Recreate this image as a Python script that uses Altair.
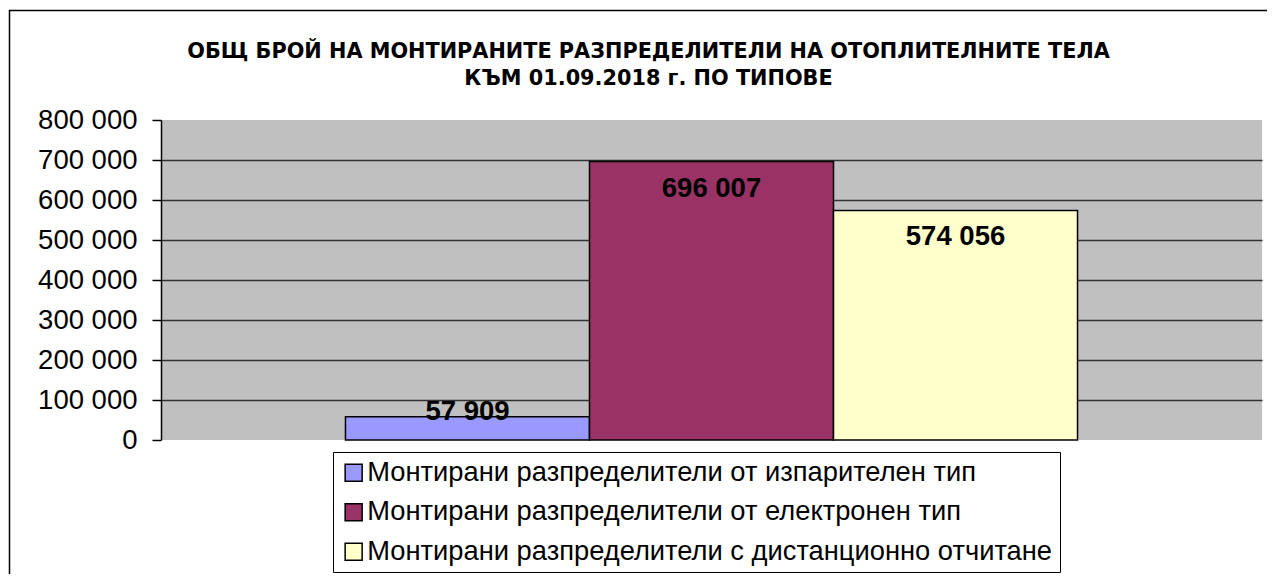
import altair as alt
import pandas as pd

series = [
    "Монтирани разпределители от изпарителен тип",
    "Монтирани разпределители от електронен тип",
    "Монтирани разпределители с дистанционно отчитане",
]
values = [57909, 696007, 574056]
colors = ["#9999FF", "#993366", "#FFFFCC"]
y_ticks = [0, 100000, 200000, 300000, 400000, 500000, 600000, 700000, 800000]
title_lines = [
    "ОБЩ БРОЙ НА МОНТИРАНИТЕ РАЗПРЕДЕЛИТЕЛИ НА ОТОПЛИТЕЛНИТЕ ТЕЛА",
    "КЪМ 01.09.2018 г. ПО ТИПОВЕ",
]

df = pd.DataFrame({"series": series, "value": values})

x_scale = alt.Scale(paddingInner=0, paddingOuter=0.756)
y_scale = alt.Scale(domain=[0, 800000], nice=False)

y_axis = alt.Axis(values=y_ticks, title=None, labelOverlap=False,
                  labelExpr="replace(format(datum.value, ','), ',', ' ')",
                  labelFont="Liberation Sans", labelFontSize=27.5,
                  labelColor="black", labelPadding=15,
                  tickSize=9, tickColor="black", tickWidth=1.5,
                  domainColor="black", domainWidth=1.5,
                  grid=True, gridColor="#333333", gridWidth=1.5,
                  gridOpacity={"condition": {"test": "datum.value > 0 && datum.value < 800000", "value": 1}, "value": 0})

x_enc = alt.X("series:N", sort=series, axis=None, scale=x_scale)
y_enc = alt.Y("value:Q", scale=y_scale, axis=y_axis)

base = alt.Chart(df)

bars = base.mark_bar(stroke="black", strokeWidth=1.5).encode(
    x=x_enc,
    y=y_enc,
    color=alt.Color("series:N", sort=series,
                    scale=alt.Scale(domain=series, range=colors),
                    legend=alt.Legend(title=None, orient="none", legendX=172, legendY=332,
                                      symbolType="square", symbolSize=289,
                                      symbolStrokeColor="black", symbolStrokeWidth=1.5,
                                      labelFont="Liberation Sans", labelFontSize=27.3,
                                      labelColor="black", labelLimit=2000, labelOffset=0,
                                      rowPadding=11.5, padding=7,
                                      strokeColor="black", fillColor="white")),
)

label_calc = "replace(format(datum.value, ','), ',', ' ')"

labels_in = base.transform_filter("datum.value > 100000").transform_calculate(
    lab=label_calc
).mark_text(font="Liberation Sans", fontSize=27.5, fontWeight="bold",
            color="black", baseline="alphabetic", dy=35).encode(
    x=x_enc,
    y=y_enc,
    text="lab:N",
)

labels_low = base.transform_filter("datum.value <= 100000").transform_calculate(
    lab=label_calc
).mark_text(font="Liberation Sans", fontSize=27.5, fontWeight="bold",
            color="black", baseline="alphabetic", dy=3).encode(
    x=x_enc,
    y=y_enc,
    text="lab:N",
)

frame = alt.Chart(alt.Data(values=[{}])).mark_rect(
    fill="transparent", stroke="black", strokeWidth=1.5
).encode(x=alt.value(-151.5), x2=alt.value(1400), y=alt.value(-109.5), y2=alt.value(700))

chart = alt.layer(bars, labels_in, labels_low, frame).properties(
    width=1101, height=320,
    background="white",
    autosize=alt.AutoSizeParams(type="none"),
    padding={"left": 153, "top": 112, "right": 5, "bottom": 134},
    title=alt.TitleParams(title_lines, font="DejaVu Sans", fontSize=20.8, fontWeight="bold",
                          color="black", anchor="middle", dx=-63, lineHeight=27,
                          baseline="top", offset=-80, frame="group"),
).configure_view(fill="#C0C0C0", stroke=None)

chart.save("out.html", embed_options={"renderer": "svg", "actions": False})
